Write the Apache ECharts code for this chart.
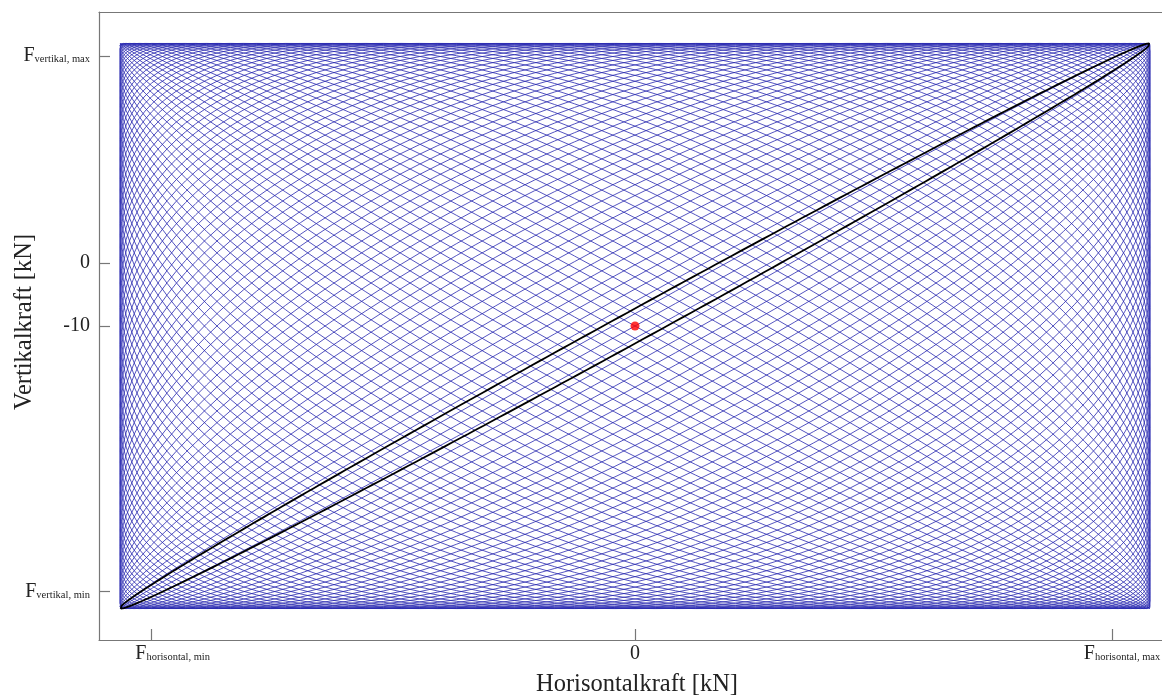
<!DOCTYPE html>
<html>
<head>
<meta charset="utf-8">
<script src="https://cdn.jsdelivr.net/npm/echarts@6/dist/echarts.min.js"></script>
<style>
  html, body { margin: 0; padding: 0; background: #ffffff; }
  #chart { width: 1162px; height: 700px; }
</style>
</head>
<body>
<div id="chart"></div>
<script>
// Tick positions (kN) and their labels
const xTickValues = [-76, 0, 75];
const xTickLabels = ['F|horisontal, min', '0', 'F|horisontal, max'];
const yTickValues = [-52.3, -10, 0, 33];
const yTickLabels = ['F|vertikal, min', '-10', '0', 'F|vertikal, max'];

// Static load point (horizontal, vertical) in kN
const staticPoint = [0, -10];

// Oscillating load: centre, amplitudes (kN), oscillation counts per full period
const loadCentre = [0, -10];
const loadAmplitude = [81, 45];
const oscillationCount = [72, 73];     // horizontal, vertical
const startPhase = 0;                  // rad, vertical relative to horizontal
const samplesPerCycle = 160;

// First load cycle: near-diagonal ellipse
const firstCyclePhase = 0.062;         // rad

function lissajous(nx, ny, phase, cycles, perCycle) {
  const pts = [];
  const n = cycles * perCycle;
  for (let i = 0; i <= n; i++) {
    const t = (2 * Math.PI * i) / perCycle;         // one horizontal cycle = 2π
    const h = loadCentre[0] + loadAmplitude[0] * Math.sin(t);
    const v = loadCentre[1] + loadAmplitude[1] * Math.sin((ny / nx) * t + phase);
    pts.push([h, v]);
  }
  return pts;
}

const meshData = lissajous(oscillationCount[0], oscillationCount[1], startPhase,
                           oscillationCount[0], samplesPerCycle);
const firstCycleData = lissajous(1, 1, firstCyclePhase, 1, 400);

function labelFor(values, labels, spacers) {
  return function (v) {
    const idx = values.indexOf(v);
    if (idx < 0) return '';
    const s = labels[idx];
    const lead = spacers && spacers[idx] ? '{' + spacers[idx] + '| }' : '';
    if (s.indexOf('|') >= 0) {
      const parts = s.split('|');
      return lead + '{F|' + parts[0] + '}{sub|' + parts[1] + '}';
    }
    return '{num|' + s + '}';
  };
}

const serif = '"Liberation Serif", "Times New Roman", serif';
const richText = {
  F: { fontFamily: serif, fontSize: 20, color: '#222' },
  sub: { fontFamily: serif, fontSize: 10.5, color: '#222', padding: [7, 0, 0, 0] },
  num: { fontFamily: serif, fontSize: 20, color: '#222' },
  padMin: { width: 42 },
  padMax: { width: 20 }
};
const axisGrey = '#777777';

const chart = echarts.init(document.getElementById('chart'), null, { renderer: 'canvas' });
chart.setOption({
  animation: false,
  backgroundColor: '#ffffff',
  grid: { left: 99, right: 0, top: 12, bottom: 60, containLabel: false, outerBoundsMode: 'none' },
  xAxis: [{
    type: 'value',
    min: -84.28, max: 82.86,
    position: 'bottom',
    name: 'Horisontalkraft [kN]',
    nameLocation: 'middle',
    nameGap: 32,
    nameMoveOverlap: false,
    nameTextStyle: { fontFamily: serif, fontSize: 24.5, color: '#222', padding: [0, 0, 0, 13] },
    axisLine: { show: true, onZero: false, lineStyle: { color: axisGrey, width: 1.2 } },
    axisTick: { show: true, inside: true, length: 11, customValues: xTickValues,
                lineStyle: { color: axisGrey, width: 1.2 } },
    axisLabel: { show: true, customValues: xTickValues, margin: 4,
                 formatter: labelFor(xTickValues, xTickLabels, ['padMin', null, 'padMax']),
                 rich: richText },
    splitLine: { show: false }
  }, {
    type: 'value',
    min: -84.28, max: 82.86,
    position: 'top',
    axisLine: { show: true, onZero: false, lineStyle: { color: axisGrey, width: 1.2 } },
    axisTick: { show: false },
    axisLabel: { show: false },
    splitLine: { show: false }
  }],
  yAxis: {
    type: 'value',
    min: -60, max: 40,
    name: 'Vertikalkraft [kN]',
    nameLocation: 'middle',
    nameGap: 62,
    nameRotate: 90,
    nameMoveOverlap: false,
    nameTextStyle: { fontFamily: serif, fontSize: 24.5, color: '#222', padding: [0, 0, 0, 8] },
    axisLine: { show: true, onZero: false, lineStyle: { color: axisGrey, width: 1.2 } },
    axisTick: { show: true, inside: true, length: 11, customValues: yTickValues,
                lineStyle: { color: axisGrey, width: 1.2 } },
    axisLabel: { show: true, customValues: yTickValues, margin: 9,
                 formatter: labelFor(yTickValues, yTickLabels), rich: richText },
    splitLine: { show: false }
  },
  series: [{
    type: 'line',
    data: meshData,
    showSymbol: false,
    symbol: 'none',
    silent: true,
    sampling: null,
    lineStyle: { color: '#2828b0', width: 0.8 },
    z: 2
  }, {
    type: 'line',
    data: firstCycleData,
    showSymbol: false,
    symbol: 'none',
    silent: true,
    lineStyle: { color: '#000000', width: 1.8 },
    z: 3
  }, {
    type: 'scatter',
    data: [staticPoint],
    symbol: 'circle',
    symbolSize: 9,
    itemStyle: { color: '#ff0000' },
    silent: true,
    z: 4
  }]
});
</script>
</body>
</html>
